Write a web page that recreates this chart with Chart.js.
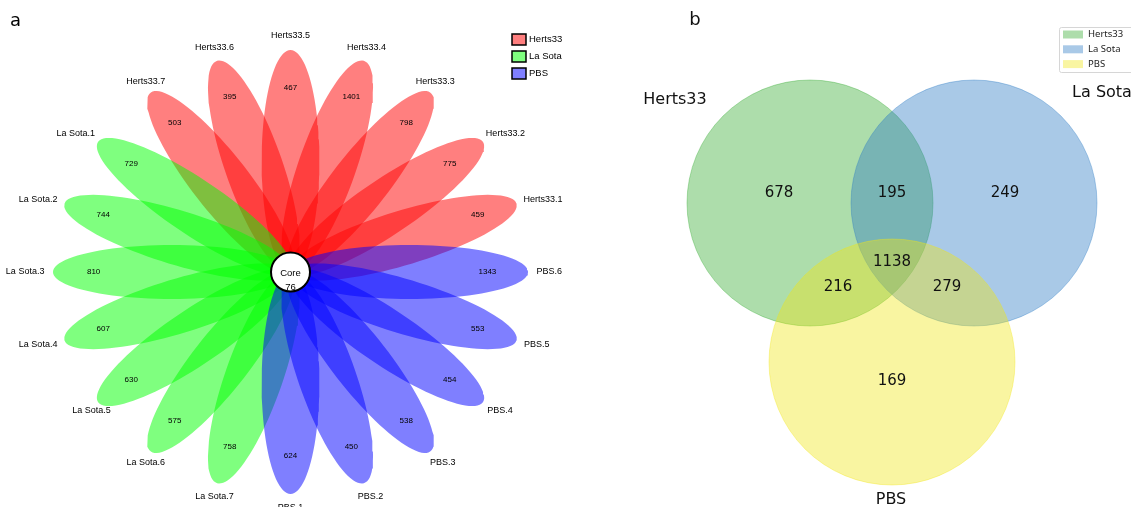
<!DOCTYPE html>
<html>
<head>
<meta charset="utf-8">
<script src="https://cdn.jsdelivr.net/npm/chart.js@4.4.0/dist/chart.umd.min.js"></script>
<style>
    html, body { margin: 0; padding: 0; background: #ffffff; }
    #wrap { position: relative; width: 1131px; height: 507px; overflow: hidden; }
    #flower { position: absolute; left: 0; top: 0; }
    #venn { position: absolute; left: 620px; top: 0; }
</style>
</head>
<body>
<div id="wrap">
    <canvas id="flower" width="620" height="507"></canvas>
    <canvas id="venn" width="511" height="507"></canvas>
</div>
<script>
// Datos del diagrama de flor (a)
const petalNames = [
    'Herts33.1', 'Herts33.2', 'Herts33.3', 'Herts33.4', 'Herts33.5', 'Herts33.6', 'Herts33.7',
    'La Sota.1', 'La Sota.2', 'La Sota.3', 'La Sota.4', 'La Sota.5', 'La Sota.6', 'La Sota.7',
    'PBS.1', 'PBS.2', 'PBS.3', 'PBS.4', 'PBS.5', 'PBS.6'
];
const petalCounts = [
    459, 775, 798, 1401, 467, 395, 503,
    729, 744, 810, 607, 630, 575, 758,
    624, 450, 538, 454, 553, 1343
];
const petalGroups = [
    'Herts33', 'Herts33', 'Herts33', 'Herts33', 'Herts33', 'Herts33', 'Herts33',
    'La Sota', 'La Sota', 'La Sota', 'La Sota', 'La Sota', 'La Sota', 'La Sota',
    'PBS', 'PBS', 'PBS', 'PBS', 'PBS', 'PBS'
];
const coreCount = 76;
const groupNames = ['Herts33', 'La Sota', 'PBS'];

// Datos del diagrama de Venn (b)
const vennSets = ['Herts33', 'La Sota', 'PBS'];
const vennRegions = ['100', '010', '001', '110', '101', '011', '111'];
const vennCounts = [678, 249, 169, 195, 216, 279, 1138];

// Colores
const groupColors = {
    'Herts33': 'rgba(255, 0, 0, 0.5)',
    'La Sota': 'rgba(0, 255, 0, 0.5)',
    'PBS': 'rgba(0, 0, 255, 0.5)'
};
const vennColors = ['rgba(50, 170, 45, 0.4)', 'rgba(40, 120, 195, 0.4)', 'rgba(240, 230, 20, 0.4)'];
const vennEdges = ['rgba(50, 170, 45, 0.35)', 'rgba(40, 120, 195, 0.35)', 'rgba(240, 230, 20, 0.35)'];

// Geometría de la flor (unidades = px verticales)
const flower = { a: 111, b: 27, stretchX: 1.07, cxPx: 290.5, cyPx: 272, valueR: 184, labelR: 230 };

function petalAngle(i) {
    return 18 * (i + 1);
}

function petalOutline(angleDeg) {
    const t = angleDeg * Math.PI / 180;
    const pts = [];
    for (let k = 0; k <= 96; k++) {
        const u = k / 96 * 2 * Math.PI;
        const ex = flower.a + flower.a * Math.cos(u);
        const ey = flower.b * Math.sin(u);
        pts.push({ x: ex * Math.cos(t) - ey * Math.sin(t), y: ex * Math.sin(t) + ey * Math.cos(t) });
    }
    return pts;
}

// desplazamiento horizontal de la etiqueta según el cuadrante
function labelShift(c, s, w) {
    if (s >= -1e-9) return Math.abs(c) > 0.7 ? w / 2 * c : 0;
    if (c < 0) return Math.abs(c) > 0.9 ? w / 2 * c : 0;
    return w / 2 * c;
}

const petalDatasets = petalNames.map((name, i) => ({
    label: name,
    data: petalOutline(petalAngle(i)),
    showLine: true,
    fill: 'shape',
    backgroundColor: groupColors[petalGroups[i]],
    borderColor: 'rgba(0,0,0,0)',
    borderWidth: 0,
    pointRadius: 0,
    tension: 0,
    clip: false,
    order: petalNames.length - i + 1
}));

const coreDataset = {
    label: 'Core',
    data: [{ x: 0, y: 0 }],
    pointRadius: 19.5,
    backgroundColor: '#ffffff',
    borderColor: '#000000',
    borderWidth: 2,
    clip: false,
    order: 0
};

const flowerText = {
    id: 'flowerText',
    afterDatasetsDraw(chart) {
        const { ctx, scales: { x, y } } = chart;
        ctx.save();
        ctx.fillStyle = '#000';
        ctx.textAlign = 'center';
        ctx.textBaseline = 'middle';
        petalNames.forEach((name, i) => {
            const t = petalAngle(i) * Math.PI / 180;
            const c = Math.cos(t), s = Math.sin(t);
            ctx.font = '8px "Liberation Sans"';
            ctx.fillText(String(petalCounts[i]), x.getPixelForValue(flower.valueR * c), y.getPixelForValue(flower.valueR * s));
            ctx.font = '9px "Liberation Sans"';
            const w = ctx.measureText(name).width;
            const px = x.getPixelForValue(flower.labelR * c) + labelShift(c, s, w);
            const py = y.getPixelForValue(flower.labelR * s) - 6 * s;
            ctx.fillText(name, px, py);
        });
        const cx = x.getPixelForValue(0), cy = y.getPixelForValue(0);
        ctx.font = '9.5px "Liberation Sans"';
        ctx.fillText('Core', cx, cy + 1);
        ctx.fillText(String(coreCount), cx, cy + 15);

        // letra del panel
        ctx.font = '18px "DejaVu Sans"';
        ctx.textAlign = 'left';
        ctx.fillText('a', 10, 21);

        // leyenda
        ctx.font = '9.5px "Liberation Sans"';
        groupNames.forEach((g, k) => {
            const top = 34 + k * 17;
            ctx.fillStyle = '#ffffff';
            ctx.fillRect(512, top, 14, 11);
            ctx.fillStyle = groupColors[g];
            ctx.fillRect(512, top, 14, 11);
            ctx.strokeStyle = '#000';
            ctx.lineWidth = 1.5;
            ctx.strokeRect(512, top, 14, 11);
            ctx.fillStyle = '#000';
            ctx.fillText(g, 529, top + 5.5);
        });
        ctx.restore();
    }
};

new Chart(document.getElementById('flower'), {
    type: 'scatter',
    data: { datasets: [...petalDatasets, coreDataset] },
    options: {
        responsive: false,
        animation: false,
        events: [],
        layout: { padding: 0, autoPadding: false },
        plugins: { legend: { display: false }, tooltip: { enabled: false } },
        scales: {
            x: {
                type: 'linear', display: false,
                min: -flower.cxPx / flower.stretchX,
                max: (620 - flower.cxPx) / flower.stretchX
            },
            y: {
                type: 'linear', display: false,
                min: -(507 - flower.cyPx),
                max: flower.cyPx
            }
        }
    },
    plugins: [flowerText]
});

// Venn: disposición (px de página)
const vennLayout = {
    r: 123,
    centers: [{ x: 810, y: 203 }, { x: 974, y: 203 }, { x: 892, y: 362 }],
    regionPos: {
        '100': [779, 193], '010': [1005, 193], '001': [892, 381],
        '110': [892, 193], '101': [838, 287], '011': [947, 287], '111': [892, 262]
    },
    setLabelPos: [[675, 100], [1102, 93], [891, 500]]
};

const vennText = {
    id: 'vennText',
    afterDatasetsDraw(chart) {
        const { ctx, scales: { x, y } } = chart;
        ctx.save();
        ctx.fillStyle = '#111';
        ctx.textAlign = 'center';
        ctx.textBaseline = 'middle';
        ctx.font = '15px "DejaVu Sans"';
        vennRegions.forEach((rg, i) => {
            const p = vennLayout.regionPos[rg];
            ctx.fillText(String(vennCounts[i]), x.getPixelForValue(p[0]), y.getPixelForValue(p[1]));
        });
        ctx.font = '16px "DejaVu Sans"';
        vennSets.forEach((s, i) => {
            const p = vennLayout.setLabelPos[i];
            ctx.fillText(s, x.getPixelForValue(p[0]), y.getPixelForValue(p[1]));
        });
        ctx.font = '18px "DejaVu Sans"';
        ctx.fillText('b', x.getPixelForValue(695), y.getPixelForValue(20));

        // leyenda
        const lx = x.getPixelForValue(1059), ly = y.getPixelForValue(27);
        ctx.fillStyle = '#ffffff';
        ctx.strokeStyle = '#d6d6d6';
        ctx.lineWidth = 1;
        ctx.beginPath();
        ctx.roundRect(lx + 0.5, ly + 0.5, 90, 45, 2);
        ctx.fill();
        ctx.stroke();
        ctx.textAlign = 'left';
        ctx.font = '9.5px "Noto Sans"';
        vennSets.forEach((s, i) => {
            const cy = ly + 7.5 + i * 14.8;
            ctx.fillStyle = vennColors[i];
            ctx.fillRect(lx + 4, cy - 4, 20, 8);
            ctx.fillStyle = '#222';
            ctx.fillText(s, lx + 29, cy);
        });
        ctx.restore();
    }
};

new Chart(document.getElementById('venn'), {
    type: 'scatter',
    data: {
        datasets: [{
            label: 'Venn',
            data: vennLayout.centers,
            pointRadius: vennLayout.r,
            backgroundColor: vennColors,
            borderColor: vennEdges,
            borderWidth: 1,
            clip: false
        }]
    },
    options: {
        responsive: false,
        animation: false,
        events: [],
        layout: { padding: 0, autoPadding: false },
        plugins: { legend: { display: false }, tooltip: { enabled: false } },
        scales: {
            x: { type: 'linear', display: false, min: 620, max: 1131 },
            y: { type: 'linear', display: false, min: 0, max: 507, reverse: true }
        }
    },
    plugins: [vennText]
});
</script>
</body>
</html>
